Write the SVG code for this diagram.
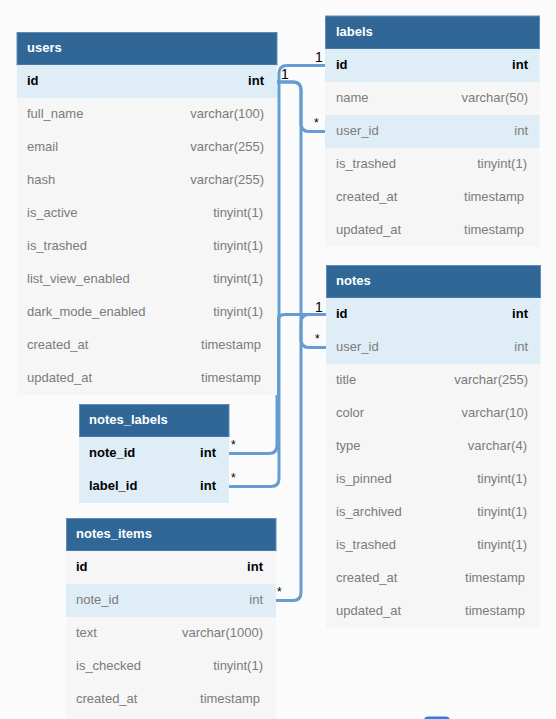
<svg xmlns="http://www.w3.org/2000/svg" width="556" height="719" viewBox="0 0 556 719">
<style>
text{font-family:"Liberation Sans",Arial,sans-serif;font-size:13px}
.hd{fill:#306796;stroke:#5f8db8;stroke-width:1}
.ht{fill:#fff;font-weight:bold}
.r{fill:#f6f6f6}
.k{fill:#deedf6}
.n{fill:#7b7b7b}
.b{fill:#000;font-weight:bold}
.t{fill:#7b7b7b;text-anchor:end}
.tb{fill:#000;font-weight:bold;text-anchor:end}
.c{fill:none;stroke:#659dd1;stroke-width:3;stroke-linejoin:round}
.one{fill:#000;font-size:14px}
.many{fill:#000;font-size:12px}
</style>
<rect width="556" height="719" fill="#fbfbfb"/>

<g id="connectors">
<path class="c" d="M325,65.5 H287 Q279,65.5 279,73.5 V478.5 Q279,486.5 271,486.5 H229"/>
<path class="c" d="M326,314.5 H285 Q277,314.5 277,322.5 V445.5 Q277,453.5 269,453.5 H229"/>
<path class="c" d="M277,82 H293 Q301,82 301,90 V123.5 Q301,131.5 309,131.5 H325"/>
<path class="c" d="M277,82 H293 Q301,82 301,90 V339.5 Q301,347.5 309,347.5 H326"/>
<path class="c" d="M326,314.5 H309 Q301,314.5 301,322.5 V592.5 Q301,600.5 293,600.5 H276"/>
<text class="one" x="281" y="79">1</text>
<text class="one" x="315" y="62">1</text>
<text class="many" x="314" y="127">*</text>
<text class="one" x="315" y="312">1</text>
<text class="many" x="315" y="343">*</text>
<text class="many" x="231" y="449">*</text>
<text class="many" x="231" y="482">*</text>
<text class="many" x="277" y="596">*</text>
</g>

<g id="users">
<rect class="hd" x="17" y="32.5" width="260" height="32.5"/>
<text class="ht" x="27" y="52">users</text>
<rect class="k" x="17" y="65" width="260" height="33"/>
<rect class="r" x="17" y="98" width="260" height="297"/>
<text class="b" x="27" y="85">id</text><text class="tb" x="264" y="85">int</text>
<text class="n" x="27" y="118">full_name</text><text class="t" x="264" y="118">varchar(100)</text>
<text class="n" x="27" y="151">email</text><text class="t" x="264" y="151">varchar(255)</text>
<text class="n" x="27" y="184">hash</text><text class="t" x="264" y="184">varchar(255)</text>
<text class="n" x="27" y="217">is_active</text><text class="t" x="263" y="217">tinyint(1)</text>
<text class="n" x="27" y="250">is_trashed</text><text class="t" x="263" y="250">tinyint(1)</text>
<text class="n" x="27" y="283">list_view_enabled</text><text class="t" x="263" y="283">tinyint(1)</text>
<text class="n" x="27" y="316">dark_mode_enabled</text><text class="t" x="263" y="316">tinyint(1)</text>
<text class="n" x="27" y="349">created_at</text><text class="t" x="261" y="349">timestamp</text>
<text class="n" x="27" y="382">updated_at</text><text class="t" x="261" y="382">timestamp</text>
</g>

<g id="labels">
<rect class="hd" x="325.5" y="16" width="214" height="33"/>
<text class="ht" x="336" y="36">labels</text>
<rect class="r" x="325" y="49" width="214.5" height="198"/>
<rect class="k" x="325" y="49" width="214.5" height="33"/>
<rect class="k" x="325" y="115" width="214.5" height="33"/>
<text class="b" x="336" y="69">id</text><text class="tb" x="528" y="69">int</text>
<text class="n" x="336" y="102">name</text><text class="t" x="528" y="102">varchar(50)</text>
<text class="n" x="336" y="135">user_id</text><text class="t" x="528" y="135">int</text>
<text class="n" x="336" y="168">is_trashed</text><text class="t" x="527" y="168">tinyint(1)</text>
<text class="n" x="336" y="201">created_at</text><text class="t" x="524" y="201">timestamp</text>
<text class="n" x="336" y="234">updated_at</text><text class="t" x="524" y="234">timestamp</text>
</g>

<g id="notes">
<rect class="hd" x="326.5" y="265.5" width="214" height="32.5"/>
<text class="ht" x="336" y="285">notes</text>
<rect class="r" x="326" y="298" width="214.5" height="330"/>
<rect class="k" x="326" y="298" width="214.5" height="66"/>
<text class="b" x="336" y="318">id</text><text class="tb" x="528" y="318">int</text>
<text class="n" x="336" y="351">user_id</text><text class="t" x="528" y="351">int</text>
<text class="n" x="336" y="384">title</text><text class="t" x="528" y="384">varchar(255)</text>
<text class="n" x="336" y="417">color</text><text class="t" x="528" y="417">varchar(10)</text>
<text class="n" x="336" y="450">type</text><text class="t" x="527" y="450">varchar(4)</text>
<text class="n" x="336" y="483">is_pinned</text><text class="t" x="527" y="483">tinyint(1)</text>
<text class="n" x="336" y="516">is_archived</text><text class="t" x="527" y="516">tinyint(1)</text>
<text class="n" x="336" y="549">is_trashed</text><text class="t" x="527" y="549">tinyint(1)</text>
<text class="n" x="336" y="582">created_at</text><text class="t" x="525" y="582">timestamp</text>
<text class="n" x="336" y="615">updated_at</text><text class="t" x="525" y="615">timestamp</text>
</g>

<g id="notes_labels">
<rect class="hd" x="79.5" y="404.5" width="149.5" height="32.5"/>
<text class="ht" x="89" y="424">notes_labels</text>
<rect class="k" x="79" y="437" width="150" height="66"/>
<text class="b" x="89" y="457">note_id</text><text class="tb" x="216" y="457">int</text>
<text class="b" x="89" y="490">label_id</text><text class="tb" x="216" y="490">int</text>
</g>

<g id="notes_items">
<rect class="hd" x="66.5" y="518.5" width="209.5" height="32.5"/>
<text class="ht" x="76" y="538">notes_items</text>
<rect class="r" x="66" y="551" width="210" height="168"/>
<rect class="k" x="66" y="584" width="210" height="33"/>
<text class="b" x="76" y="571">id</text><text class="tb" x="263" y="571">int</text>
<text class="n" x="76" y="604">note_id</text><text class="t" x="263" y="604">int</text>
<text class="n" x="76" y="637">text</text><text class="t" x="263" y="637">varchar(1000)</text>
<text class="n" x="76" y="670">is_checked</text><text class="t" x="263" y="670">tinyint(1)</text>
<text class="n" x="76" y="703">created_at</text><text class="t" x="260" y="703">timestamp</text>
</g>

<rect x="424" y="716.5" width="26" height="10" rx="4" fill="#2f7ee6"/>
</svg>
